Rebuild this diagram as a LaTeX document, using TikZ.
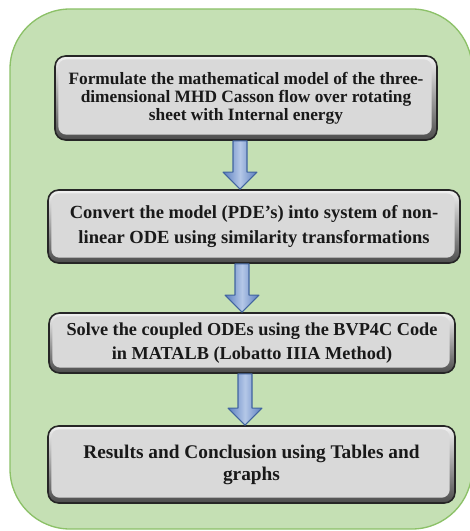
\documentclass[tikz,border=0pt]{standalone}
\usepackage{fontspec}
\setmainfont{Liberation Serif}
\usetikzlibrary{calc}

\definecolor{bgfill}{HTML}{C5E0B4}
\definecolor{bgline}{HTML}{8CC168}
\definecolor{arrowlight}{HTML}{B4C7E7}
\definecolor{arrowdark}{HTML}{5B7FBF}
\definecolor{arrowline}{HTML}{41649F}

\tikzset{
  stepbox/.style={draw=black!85, line width=1.2pt, rounded corners=8pt,
    align=center, inner sep=0pt, text=black!90,
    path picture={
      \shade[draw=none, top color=black!5, middle color=black!25, bottom color=black!70]
        (path picture bounding box.south west) rectangle (path picture bounding box.north east);
      \fill[draw=none, black!15, rounded corners=6pt]
        ([shift={(2.5pt,4pt)}]path picture bounding box.south west) rectangle
        ([shift={(-4pt,-2.5pt)}]path picture bounding box.north east);
    }},
  stepfont/.style 2 args={font=\bfseries\fontsize{#1}{#2}\selectfont},
  boxsize/.style 2 args={minimum width=#1*0.75pt, minimum height=#2*0.75pt},
  blockarrow/.style={draw=arrowline, line width=0.8pt, line join=round,
    left color=arrowdark, right color=arrowdark, middle color=arrowlight}
}

\begin{document}
\begin{tikzpicture}[x=0.75pt,y=-0.75pt]
  \useasboundingbox (0,0) rectangle (469,531);

  % background panel
  \draw[bgline, fill=bgfill, line width=1pt, rounded corners=45pt] (10,9) rectangle (472,529);

  \node[stepbox, stepfont={13}{13.5}, boxsize={382}{84}] (f1) at (246,98)
    {Formulate the mathematical model of the three-\\dimensional MHD Casson flow over rotating\\sheet with Internal energy};
  \node[stepbox, stepfont={13.9}{18.5}, boxsize={412}{73}] (f2) at (254,226.5)
    {Convert the model (PDE’s) into system of non-\\linear ODE using similarity transformations};
  \node[stepbox, stepfont={13.7}{18.5}, boxsize={406}{60}] (f3) at (252,343)
    {Solve the coupled ODEs using the BVP4C Code\\in MATALB (Lobatto IIIA Method)};
  \node[stepbox, stepfont={14.5}{16.5}, boxsize={407}{77}] (f4) at (251.5,464.5)
    {Results and Conclusion using Tables and\\graphs};

  % block arrows
  \foreach \a/\b/\x in {f1/f2/240,f2/f3/242,f3/f4/245}{
    \coordinate (top) at (\x,0 |- \a.south);
    \coordinate (tip) at (\x,0 |- \b.north);
    \path[blockarrow] ($(top)+(-7,0)$) -- ($(tip)+(-7,-17)$) -- ($(tip)+(-17,-17)$) -- (tip)
      -- ($(tip)+(17,-17)$) -- ($(tip)+(7,-17)$) -- ($(top)+(7,0)$) -- cycle;
  }
\end{tikzpicture}
\end{document}
